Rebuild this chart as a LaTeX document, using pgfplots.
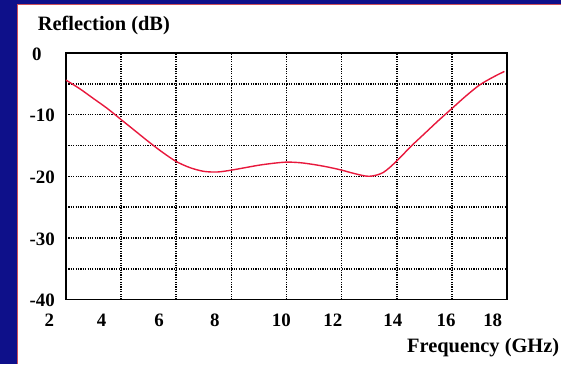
\documentclass[border=0pt]{standalone}
\usepackage{pgfplots}
\pgfplotsset{compat=1.18}
\usepackage{fontspec}
\setmainfont{Liberation Serif}
\definecolor{bgblue}{RGB}{14,16,138}
\definecolor{bordred}{RGB}{205,80,90}
\definecolor{curvered}{RGB}{232,24,60}
\newcommand{\sh}[2]{\makebox[0pt]{\hspace*{#1}#2\hspace*{-#1}}}
\begin{document}
\begin{tikzpicture}[x=1bp,y=1bp]
\fill[bgblue] (0,0) rectangle (562,364);
\fill[white] (17,0) rectangle (562,359);
\draw[bordred, line width=1.3bp] (17.6,0) -- (17.6,359.4) -- (562,359.4);
\useasboundingbox (0,0) rectangle (562,364);
\begin{axis}[
  at={(66bp,64bp)}, anchor=south west,
  scale only axis, width=441.7bp, height=247bp,
  xmin=2, xmax=18, ymin=-40, ymax=0,
  xtick={2,4,...,18},
  xticklabels={\sh{-16.7bp}{2},\sh{-19.5bp}{4},\sh{-17.1bp}{6},\sh{-16.6bp}{8},\sh{-5.2bp}{10},\sh{-8.8bp}{12},\sh{-4bp}{14},\sh{-5.8bp}{16},\sh{-14.4bp}{18}},
  ytick={-40,-30,-20,-10,0},
  yticklabels={-40,-30,-20,-10,\sh{-17.5bp}{0}},
  minor ytick={-35,-25,-15,-5},
  grid=both,
  major grid style={black, line width=1.5bp, dash pattern=on 1.2bp off 1.2bp},
  minor grid style={black, line width=1.5bp, dash pattern=on 1.2bp off 1.2bp},
  major tick length=0pt, minor tick length=0pt,
  axis line style={black, line width=1.6bp},
  ticklabel style={font=\bfseries\fontsize{19}{19}\selectfont, inner sep=0pt},
  xticklabel style={anchor=base, yshift=-26.7bp},
  yticklabel style={anchor=east, xshift=-11bp, yshift=-1bp},
]
\addplot[curvered, line width=1.4bp, smooth] coordinates {
(2.0,-4.4) (2.5,-5.8) (3.0,-7.4) (3.5,-9.0) (4.0,-10.8) (4.5,-12.6)
(5.0,-14.4) (5.5,-16.1) (6.0,-17.6) (6.5,-18.6) (7.0,-19.2) (7.5,-19.3)
(8.0,-19.0) (8.5,-18.6) (9.0,-18.2) (9.5,-17.9) (10.0,-17.7) (10.5,-17.8)
(11.0,-18.1) (11.5,-18.5) (12.0,-19.0) (12.5,-19.6) (13.0,-20.0) (13.5,-19.4)
(14.0,-17.5) (14.5,-15.2) (15.0,-13.1) (15.5,-11.0) (16.0,-9.0) (16.5,-7.0)
(17.0,-5.2) (17.5,-3.9) (17.9,-3.0)
};
\end{axis}
\node[anchor=base west, inner sep=0pt, font=\bfseries\fontsize{20.5}{20.5}\selectfont] at (37.7,333.3) {Reflection (dB)};
\node[anchor=base east, inner sep=0pt, font=\bfseries\fontsize{20.5}{20.5}\selectfont] at (560,10.7) {Frequency (GHz)};
\end{tikzpicture}
\end{document}
